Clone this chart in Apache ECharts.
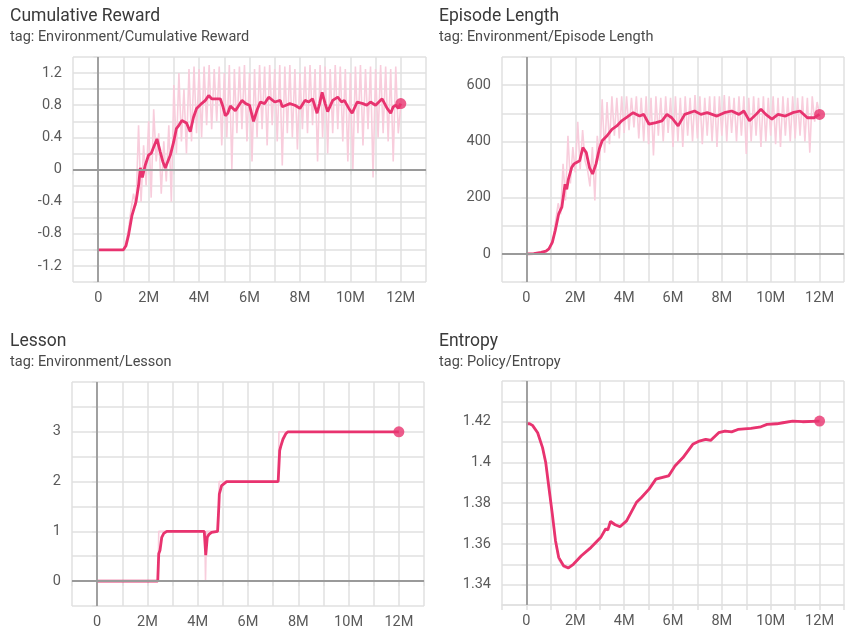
<!DOCTYPE html>
<html>
<head>
<meta charset="utf-8">
<script src="https://cdn.jsdelivr.net/npm/echarts@6/dist/echarts.min.js"></script>
<style>
html, body { margin: 0; padding: 0; background: #fff; }
#chart { width: 847px; height: 633px; }
</style>
</head>
<body>
<div id="chart"></div>
<script>
// steps are in millions
var rawSteps = [
  0,0.1,0.2,0.3,0.4,0.5,0.6,0.7,0.8,0.9,
  1,1.1,1.2,1.3,1.4,1.5,1.6,1.7,1.8,1.9,
  2,2.1,2.2,2.3,2.4,2.5,2.6,2.7,2.8,2.9,
  3,3.1,3.2,3.3,3.4,3.5,3.6,3.7,3.8,3.9,
  4,4.1,4.2,4.3,4.4,4.5,4.6,4.7,4.8,4.9,
  5,5.1,5.2,5.3,5.4,5.5,5.6,5.7,5.8,5.9,
  6,6.1,6.2,6.3,6.4,6.5,6.6,6.7,6.8,6.9,
  7,7.1,7.2,7.3,7.4,7.5,7.6,7.7,7.8,7.9,
  8,8.1,8.2,8.3,8.4,8.5,8.6,8.7,8.8,8.9,
  9,9.1,9.2,9.3,9.4,9.5,9.6,9.7,9.8,9.9,
  10,10.1,10.2,10.3,10.4,10.5,10.6,10.7,10.8,10.9,
  11,11.1,11.2,11.3,11.4,11.5,11.6,11.7,11.8,11.9,
  12
];

var rewardRaw = [
  -1,-1,-1,-1,-1,-1,-1,-1,-1,-1,
  -1,-0.9,-0.75,-0.5,-0.3,-0.45,0.55,-0.4,0.3,-0.2,
  0.6,-0.35,0.75,0.1,0.45,-0.3,0.35,-0.15,0.55,-0.4,
  1.05,0.2,1.2,0.35,1.0,0.2,1.25,0.35,1.28,0.45,
  1.25,0.4,1.28,0.55,1.3,0.5,1.25,0.6,1.28,0.3,
  1.2,0.4,1.3,0.0,1.25,0.45,1.28,0.5,1.3,0.35,
  1.2,0.1,1.25,0.4,1.3,0.5,1.28,0.3,1.3,0.55,
  1.25,0.35,1.3,0.05,1.28,0.45,1.3,0.4,1.25,0.25,
  1.2,0.5,1.28,0.45,1.3,0.55,1.25,0.1,1.3,0.4,
  1.28,0.2,1.25,0.45,1.3,0.5,1.28,0.35,1.25,0.1,
  1.2,0.0,1.28,0.45,1.3,0.3,1.25,0.5,1.28,-0.1,
  1.25,0.4,1.3,0.45,1.28,0.35,1.25,0.1,1.28,0.45,
  0.8
];

var rewardSmooth = [
  [0,-1],[0.5,-1],[1,-1],[1.1,-0.95],[1.2,-0.82],[1.34,-0.57],[1.5,-0.4],[1.6,-0.2],
  [1.67,0.02],[1.75,-0.1],[1.86,0.05],[2,0.18],[2.1,0.2],[2.2,0.28],[2.33,0.38],
  [2.46,0.22],[2.56,0.1],[2.66,0.02],[2.76,0.1],[2.86,0.18],[2.99,0.34],[3.1,0.51],
  [3.2,0.55],[3.32,0.61],[3.5,0.58],[3.65,0.47],[3.78,0.65],[3.9,0.76],[4.1,0.82],
  [4.25,0.86],[4.38,0.92],[4.5,0.88],[4.6,0.88],[4.84,0.88],[4.95,0.78],[5.04,0.67],
  [5.14,0.7],[5.24,0.79],[5.44,0.73],[5.7,0.86],[5.85,0.82],[6,0.8],[6.16,0.6],
  [6.3,0.74],[6.43,0.84],[6.6,0.82],[6.76,0.9],[7,0.84],[7.22,0.86],[7.3,0.78],
  [7.45,0.8],[7.6,0.82],[7.8,0.8],[8,0.76],[8.2,0.86],[8.35,0.84],[8.5,0.88],
  [8.68,0.7],[8.78,0.82],[8.88,0.96],[9,0.82],[9.1,0.72],[9.3,0.86],[9.5,0.9],
  [9.65,0.84],[9.76,0.86],[9.94,0.76],[10.07,0.7],[10.27,0.84],[10.5,0.82],
  [10.65,0.8],[10.8,0.84],[11,0.8],[11.26,0.88],[11.46,0.76],[11.6,0.7],[11.7,0.78],
  [11.8,0.8],[11.9,0.76],[12,0.82]
];

var lengthRaw = [
  0,0,0,0,0,2,4,6,10,15,
  30,60,120,180,140,320,190,420,250,380,
  290,470,300,440,330,300,240,380,190,420,
  330,550,360,540,390,560,420,555,410,560,
  430,560,440,555,450,560,410,555,400,560,
  390,555,350,560,420,555,400,560,430,555,
  380,560,400,555,380,560,420,555,400,565,
  410,560,390,555,420,560,400,560,380,560,
  420,565,400,560,430,555,400,560,420,560,
  355,555,400,560,420,555,380,560,400,555,
  420,560,390,555,380,560,420,555,400,560,
  410,555,420,560,400,555,360,560,470,540,
  496
];

var lengthSmooth = [
  [0,0],[0.3,1],[0.6,5],[0.8,10],[0.92,18],[1.06,41],[1.18,83],[1.32,142],[1.45,166],
  [1.58,248],[1.65,230],[1.72,266],[1.85,307],[1.95,320],[2.05,325],[2.18,331],
  [2.31,378],[2.45,360],[2.58,307],[2.71,284],[2.85,320],[2.98,372],[3.1,402],
  [3.3,420],[3.5,443],[3.7,455],[3.9,473],[4.1,485],[4.37,502],[4.63,490],[4.8,496],
  [5.02,461],[5.3,467],[5.55,473],[5.75,496],[5.95,484],[6.21,455],[6.48,496],
  [6.88,508],[7.14,496],[7.4,502],[7.8,490],[8.1,502],[8.4,508],[8.7,496],[8.9,508],
  [9.13,473],[9.4,496],[9.6,514],[9.8,496],[10.05,479],[10.3,496],[10.6,490],
  [10.9,502],[11.2,508],[11.5,484],[11.77,484],[12,496]
];

var lessonRaw = [
  [0,0],[2.42,0],[2.45,1],[4.28,1],[4.31,0],[4.35,1],[4.82,1],[4.85,2],[7.2,2],[7.23,3],[12,3]
];

var lessonSmooth = [
  [0,0],[2.41,0],[2.45,0.55],[2.5,0.62],[2.57,0.88],[2.65,0.96],[2.77,1],[4.26,1],
  [4.32,0.52],[4.38,0.88],[4.45,0.94],[4.55,0.98],[4.79,1],[4.84,1.5],[4.86,1.75],
  [4.95,1.92],[5.15,2],[7.2,2],[7.26,2.62],[7.3,2.7],[7.39,2.85],[7.5,2.96],[7.59,3],[12,3]
];

var entropyRaw = [
  [0,1.4192],[0.13,1.4188],[0.25,1.418],[0.46,1.4142],[0.66,1.4068],[0.79,1.3994],
  [0.92,1.3868],[1.06,1.3735],[1.19,1.3605],[1.32,1.3522],[1.52,1.3486],[1.72,1.3478],
  [1.92,1.3502],[2.25,1.3546],[2.64,1.3588],[3.04,1.3636],[3.24,1.3678],[3.33,1.3672],
  [3.44,1.3712],[3.63,1.3698],[3.83,1.3688],[4.1,1.3718],[4.5,1.3808],[4.7,1.3832],
  [5.02,1.3874],[5.3,1.3922],[5.82,1.3938],[6.08,1.3986],[6.41,1.4028],[6.81,1.4092],
  [7.08,1.4108],[7.34,1.4116],[7.54,1.4112],[7.87,1.4149],[8.13,1.4157],[8.4,1.4153],
  [8.66,1.4164],[9.19,1.4169],[9.6,1.4177],[9.85,1.4189],[10.25,1.4192],[10.5,1.4197],
  [10.9,1.4204],[11.3,1.4202],[12,1.4204]
];

var entropySmooth = [
  [0,1.419],[0.13,1.419],[0.25,1.4182],[0.46,1.4146],[0.66,1.4073],[0.79,1.4],
  [0.92,1.3877],[1.06,1.3746],[1.19,1.3616],[1.32,1.3534],[1.52,1.3493],[1.72,1.3482],
  [1.92,1.35],[2.25,1.3542],[2.64,1.3582],[3.04,1.3631],[3.24,1.3673],[3.33,1.3668],
  [3.44,1.371],[3.63,1.3694],[3.83,1.3684],[4.1,1.3713],[4.5,1.3803],[4.7,1.3827],
  [5.02,1.3869],[5.3,1.3918],[5.82,1.3934],[6.08,1.3983],[6.41,1.4024],[6.81,1.4089],
  [7.08,1.4105],[7.34,1.4113],[7.54,1.4108],[7.87,1.4146],[8.13,1.4154],[8.4,1.415],
  [8.66,1.4162],[9.19,1.4167],[9.6,1.4175],[9.85,1.4187],[10.25,1.419],[10.5,1.4195],
  [10.9,1.4203],[11.3,1.42],[12,1.4203]
];

var titles = ['Cumulative Reward', 'Episode Length', 'Lesson', 'Entropy'];
var tags = ['tag: Environment/Cumulative Reward', 'tag: Environment/Episode Length',
            'tag: Environment/Lesson', 'tag: Policy/Entropy'];

var pink = '#e8336f';
var rawPink = '#f8cddc';
var gridColor = '#e0e0e0';
var labelColor = '#5a5a5a';
var font = 'Roboto';

function zip(xs, ys) {
  return xs.map(function (x, i) { return [x, ys[i]]; });
}

var grids = [
  { left: 73, right: 421, top: 57, height: 225 },
  { left: 502, right: -8, top: 57, height: 225 },
  { left: 72, right: 423, top: 382, height: 224 },
  { left: 502, right: -8, top: 381, height: 224 }
];

var yCfg = [
  { min: -1.4, max: 1.4, interval: 0.2, fmt: function (v) {
      var k = Math.round(v * 10);
      return (k % 4 === 0 && Math.abs(k) <= 12) ? String(k / 10) : ''; } },
  { min: -100, max: 700, interval: 100, fmt: function (v) {
      return (v % 200 === 0 && v >= 0 && v <= 600) ? String(v) : ''; } },
  { min: -0.5, max: 4, interval: 0.5, fmt: function (v) {
      var k = Math.round(v * 2);
      return (k % 2 === 0 && k >= 0 && k <= 6) ? String(k / 2) : ''; } },
  { min: 1.33, max: 1.44, interval: 0.01, fmt: function (v) {
      var k = Math.round(v * 100);
      return (k % 2 === 0 && k >= 134 && k <= 142) ? String(k / 100) : ''; } }
];

var rawData = [zip(rawSteps, rewardRaw), zip(rawSteps, lengthRaw), lessonRaw, entropyRaw];
var smoothData = [rewardSmooth, lengthSmooth, lessonSmooth, entropySmooth];
var titlePos = [[5, 3], [434, 3], [5, 328], [434, 328]];

var option = {
  animation: false,
  backgroundColor: '#fff',
  textStyle: { fontFamily: font },
  title: [],
  grid: grids,
  xAxis: [],
  yAxis: [],
  series: []
};

for (var i = 0; i < 4; i++) {
  option.title.push({
    text: titles[i],
    subtext: tags[i],
    left: titlePos[i][0],
    top: titlePos[i][1],
    itemGap: 4,
    textStyle: { fontFamily: font, fontSize: 17.5, fontWeight: 'normal', color: '#3a3a3a' },
    subtextStyle: { fontFamily: font, fontSize: 14.5, color: '#4a4a4a' }
  });
  option.xAxis.push({
    type: 'value', gridIndex: i, min: -1, max: 13, interval: 1,
    axisLine: { show: true, lineStyle: { color: gridColor, width: 1.5 } },
    axisTick: { show: true, length: 5, lineStyle: { color: gridColor, width: 1.5 } },
    splitLine: { show: true, lineStyle: { color: gridColor, width: 1.5 } },
    axisLabel: {
      margin: 9, fontSize: 14.5, color: labelColor, fontFamily: font,
      formatter: function (v) {
        if (v === 0) return '0';
        return (v > 0 && v % 2 === 0 && v <= 12) ? v + 'M' : '';
      }
    }
  });
  option.yAxis.push({
    type: 'value', gridIndex: i, min: yCfg[i].min, max: yCfg[i].max, interval: yCfg[i].interval,
    axisLine: { show: true, lineStyle: { color: gridColor, width: 1.5 } },
    axisTick: { show: true, length: 5, lineStyle: { color: gridColor, width: 1.5 } },
    splitLine: { show: true, lineStyle: { color: gridColor, width: 1.5 } },
    axisLabel: { margin: 11, fontSize: 14.5, color: labelColor, fontFamily: font, formatter: yCfg[i].fmt }
  });
  option.series.push({
    type: 'line', xAxisIndex: i, yAxisIndex: i,
    data: rawData[i], showSymbol: false, symbol: 'none', z: 2,
    lineStyle: { color: rawPink, width: 1.6 },
    markLine: {
      silent: true, symbol: 'none', label: { show: false },
      lineStyle: { color: '#9a9a9a', width: 1.8, type: 'solid' },
      data: [{ xAxis: 0 }, { yAxis: 0 }]
    }
  });
  option.series.push({
    type: 'line', xAxisIndex: i, yAxisIndex: i,
    data: smoothData[i], showSymbol: false, symbol: 'none', z: 3,
    lineStyle: { color: pink, width: 2.8 }
  });
  option.series.push({
    type: 'scatter', xAxisIndex: i, yAxisIndex: i,
    data: [smoothData[i][smoothData[i].length - 1]],
    symbol: 'circle', symbolSize: 11, z: 4,
    itemStyle: { color: pink }
  });
}

var myChart = echarts.init(document.getElementById('chart'));
myChart.setOption(option);
</script>
</body>
</html>
